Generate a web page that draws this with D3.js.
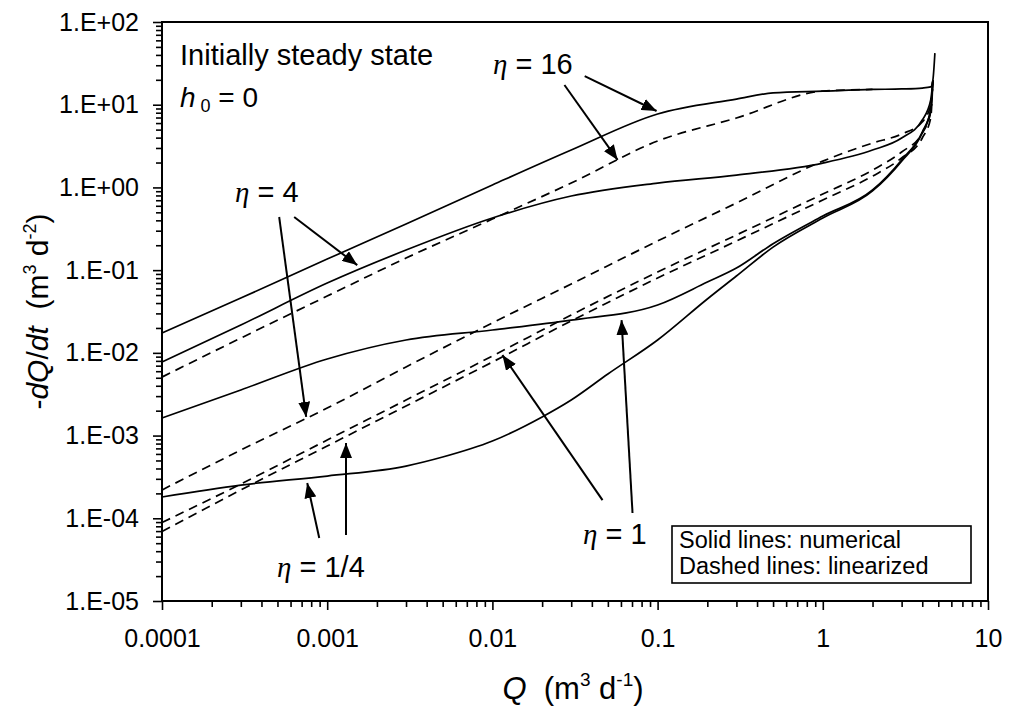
<!DOCTYPE html>
<html>
<head>
<meta charset="utf-8">
<script src="https://cdn.jsdelivr.net/npm/d3@7"></script>
<style>
  html, body { margin: 0; padding: 0; background: #fff; }
  svg { display: block; }
  text { font-family: "Liberation Sans", Arial, sans-serif; fill: #000; }
</style>
</head>
<body>
<svg id="chart" width="1009" height="708"></svg>
<script>
// ---- data: discharge Q (m3/d) and recession rate -dQ/dt (m3/d2) ----
// eta = 16
const qS16 = [1e-4, 3e-4, 1e-3, 3e-3, 1e-2, 3e-2, 0.1, 0.3, 0.5, 1, 2, 3, 4, 4.5, 4.64, 4.77];
const vS16 = [0.0174, 0.046, 0.136, 0.361, 1.07, 2.83, 7.72, 11.7, 13.9, 14.6, 15.3, 15.5, 15.9, 16.4, 20, 42];
const qD16 = [1e-4, 3e-4, 1e-3, 3e-3, 1e-2, 3e-2, 0.1, 0.3, 1, 2];
const vD16 = [0.0051, 0.0151, 0.0486, 0.140, 0.415, 1.13, 3.64, 6.91, 14.6, 15.3];
// eta = 4
const qS4 = [1e-4, 3e-4, 1e-3, 3e-3, 1e-2, 3e-2, 0.1, 0.3, 1, 2, 3, 4, 4.5, 4.64];
const vS4 = [0.00774, 0.0217, 0.0698, 0.175, 0.427, 0.787, 1.13, 1.41, 1.97, 2.83, 3.96, 6.53, 11.4, 19.9];
const qD4 = [1e-4, 3e-4, 1e-3, 3e-3, 1e-2, 3e-2, 0.1, 0.3, 1, 2, 3, 4, 4.5, 4.64];
const vD4 = [2.2e-4, 6.68e-4, 0.00215, 0.00675, 0.023, 0.068, 0.225, 0.648, 2.08, 3.44, 4.42, 6.18, 9.9, 19.9];
// eta = 1
const qS1 = [1e-4, 3e-4, 1e-3, 3e-3, 1e-2, 3e-2, 0.1, 0.2, 0.3, 0.5, 1, 2, 3, 4, 4.5, 4.64];
const vS1 = [0.00163, 0.00356, 0.00843, 0.0143, 0.0189, 0.0249, 0.0379, 0.0718, 0.106, 0.209, 0.451, 0.931, 2.15, 4.68, 8.63, 19.9];
const qD1 = [1e-4, 3e-4, 1e-3, 3e-3, 1e-2, 3e-2, 0.1, 0.3, 1, 2, 3, 4, 4.5, 4.64];
const vD1 = [8.89e-5, 2.59e-4, 8.83e-4, 0.00269, 0.00916, 0.0287, 0.0949, 0.266, 0.832, 1.62, 2.68, 4.55, 8.16, 19.9];
// eta = 1/4
const qSq = [1e-4, 3e-4, 1e-3, 3e-3, 5e-3, 1e-2, 2e-2, 3e-2, 0.05, 0.1, 0.2, 0.3, 0.5, 1, 2, 3, 4, 4.5, 4.64];
const vSq = [1.81e-4, 2.52e-4, 3.24e-4, 4.28e-4, 5.5e-4, 8.59e-4, 0.00168, 0.00269, 0.00555, 0.0143, 0.0448, 0.0849, 0.19, 0.427, 0.906, 2.08, 4.55, 8.63, 19.9];
const qDq = [1e-4, 3e-4, 1e-3, 3e-3, 1e-2, 3e-2, 0.1, 0.3, 1, 2, 3, 4, 4.5, 4.64];
const vDq = [6.92e-5, 2.2e-4, 7.48e-4, 0.00228, 0.00774, 0.0243, 0.0803, 0.225, 0.705, 1.37, 2.27, 3.96, 6.91, 19.9];

// ---- axis ticks ----
const xTickValues = [1e-4, 1e-3, 1e-2, 0.1, 1, 10];
const xTickLabels = ["0.0001", "0.001", "0.01", "0.1", "1", "10"];
const yTickValues = [1e-5, 1e-4, 1e-3, 1e-2, 1e-1, 1, 10, 100];
const yTickLabels = ["1.E-05", "1.E-04", "1.E-03", "1.E-02", "1.E-01", "1.E+00", "1.E+01", "1.E+02"];

// ---- annotation arrows: tails and tips as [Q, -dQ/dt] ----
const arrowLabels = ["16", "16", "4", "4", "1/4", "1/4", "1", "1"];
const arrowTails = [[0.0362, 22.2], [0.0273, 17.3], [6.31e-4, 0.439], [5.12e-4, 0.439], [8.95e-4, 5.77e-5], [1.30e-3, 6.28e-5], [0.0464, 1.66e-4], [0.0705, 1.16e-4]];
const arrowTips = [[0.0986, 8.39], [0.0573, 2.15], [1.52e-3, 0.115], [7.46e-4, 1.68e-3], [7.57e-4, 2.67e-4], [1.30e-3, 8.13e-4], [0.0115, 9.42e-3], [0.0605, 0.0249]];

const legendLines = ["Solid lines: numerical", "Dashed lines: linearized"];

const series = [
  { q: qS16, v: vS16, dashed: false },
  { q: qD16, v: vD16, dashed: true },
  { q: qS4, v: vS4, dashed: false },
  { q: qD4, v: vD4, dashed: true },
  { q: qS1, v: vS1, dashed: false },
  { q: qD1, v: vD1, dashed: true },
  { q: qSq, v: vSq, dashed: false },
  { q: qDq, v: vDq, dashed: true }
];

// ---- layout ----
const svg = d3.select("#chart");
const plot = { left: 162, right: 988, top: 22, bottom: 601 };

const x = d3.scaleLog().domain([1e-4, 10]).range([plot.left, plot.right]);
const y = d3.scaleLog().domain([1e-5, 100]).range([plot.bottom, plot.top]);

svg.append("defs").append("marker")
  .attr("id", "head")
  .attr("markerUnits", "userSpaceOnUse")
  .attr("markerWidth", 16).attr("markerHeight", 12)
  .attr("refX", 15).attr("refY", 6)
  .attr("orient", "auto")
  .append("path").attr("d", "M0,0 L15,6 L0,12 Z").attr("fill", "#000");

// minor ticks (2..9 of each decade)
const xMinor = x.ticks().filter(d => !xTickValues.some(t => Math.abs(t - d) / t < 1e-6));
const yMinor = y.ticks().filter(d => !yTickValues.some(t => Math.abs(t - d) / t < 1e-6));

const xAxisMinor = svg.append("g")
  .attr("transform", `translate(0,${plot.bottom})`)
  .call(d3.axisBottom(x).tickValues(xMinor).tickSize(6).tickSizeOuter(0).tickFormat(""));
const yAxisMinor = svg.append("g")
  .attr("transform", `translate(${plot.left},0)`)
  .call(d3.axisLeft(y).tickValues(yMinor).tickSize(6).tickSizeOuter(0).tickFormat(""));

const xAxis = svg.append("g")
  .attr("transform", `translate(0,${plot.bottom})`)
  .call(d3.axisBottom(x).tickValues(xTickValues).tickSize(9).tickSizeOuter(0)
    .tickPadding(19).tickFormat((d, i) => xTickLabels[i]));
const yAxis = svg.append("g")
  .attr("transform", `translate(${plot.left},0)`)
  .call(d3.axisLeft(y).tickValues(yTickValues).tickSize(9).tickSizeOuter(0)
    .tickPadding(14).tickFormat((d, i) => yTickLabels[i]));

[xAxisMinor, yAxisMinor, xAxis, yAxis].forEach(g => {
  g.select(".domain").remove();
  g.selectAll(".tick line").attr("stroke", "#000").attr("stroke-width", 1.6);
});
xAxis.selectAll(".tick text").attr("font-size", 25).attr("font-family", "Liberation Sans, Arial, sans-serif");
yAxis.selectAll(".tick text").attr("font-size", 25).attr("font-family", "Liberation Sans, Arial, sans-serif");

// plot frame
svg.append("rect")
  .attr("x", plot.left).attr("y", plot.top)
  .attr("width", plot.right - plot.left).attr("height", plot.bottom - plot.top)
  .attr("fill", "none").attr("stroke", "#000").attr("stroke-width", 2);

// curves
const line = d3.line()
  .x(d => x(d[0]))
  .y(d => y(d[1]))
  .curve(d3.curveMonotoneX);

svg.append("g").selectAll("path")
  .data(series)
  .join("path")
  .attr("d", s => line(s.q.map((q, i) => [q, s.v[i]])))
  .attr("fill", "none")
  .attr("stroke", "#000")
  .attr("stroke-width", 1.7)
  .attr("stroke-dasharray", s => s.dashed ? "9,6" : null);

// arrows
svg.append("g").selectAll("line")
  .data(arrowTails.map((t, i) => ({ t, h: arrowTips[i] })))
  .join("line")
  .attr("x1", d => x(d.t[0])).attr("y1", d => y(d.t[1]))
  .attr("x2", d => x(d.h[0])).attr("y2", d => y(d.h[1]))
  .attr("stroke", "#000").attr("stroke-width", 2)
  .attr("marker-end", "url(#head)");

// eta labels
function etaLabel(px, py, value) {
  const t = svg.append("text").attr("x", px).attr("y", py).attr("font-size", 29);
  t.append("tspan").attr("font-family", "Liberation Serif, Times New Roman, serif")
    .attr("font-style", "italic").text("η");
  t.append("tspan").text("\u00A0=\u00A0" + value);
}
etaLabel(493, 74, arrowLabels[0]);
etaLabel(235, 202, arrowLabels[2]);
etaLabel(277, 577, arrowLabels[4]);
etaLabel(583, 544, arrowLabels[6]);

// condition labels
svg.append("text").attr("x", 180).attr("y", 65).attr("font-size", 29).text("Initially steady state");
const h0 = svg.append("text").attr("x", 180).attr("y", 107).attr("font-size", 28);
h0.append("tspan").attr("font-style", "italic").text("h");
h0.append("tspan").attr("font-size", 18).attr("dy", 5).text("\u00A00");
h0.append("tspan").attr("dy", -5).text("\u00A0= 0");

// legend box
const lg = svg.append("g");
lg.append("rect").attr("x", 672).attr("y", 526).attr("width", 299).attr("height", 57)
  .attr("fill", "#fff").attr("stroke", "#000").attr("stroke-width", 1.6);
lg.selectAll("text").data(legendLines).join("text")
  .attr("x", 679).attr("y", (d, i) => 548 + i * 26)
  .attr("font-size", 23.5).text(d => d);

// axis titles
const xt = svg.append("text")
  .attr("x", (plot.left + plot.right) / 2 - 2).attr("y", 699)
  .attr("text-anchor", "middle").attr("font-size", 31);
xt.append("tspan").attr("font-style", "italic").text("Q");
xt.append("tspan").text("\u00A0\u00A0(m");
xt.append("tspan").attr("font-size", 19).attr("dy", -13).text("3");
xt.append("tspan").attr("dy", 13).text("\u00A0d");
xt.append("tspan").attr("font-size", 19).attr("dy", -13).text("-1");
xt.append("tspan").attr("dy", 13).text(")");

const yt = svg.append("text")
  .attr("transform", `translate(48,${(plot.top + plot.bottom) / 2}) rotate(-90)`)
  .attr("text-anchor", "middle").attr("font-size", 30);
yt.append("tspan").text("-");
yt.append("tspan").attr("font-style", "italic").text("dQ");
yt.append("tspan").text("/");
yt.append("tspan").attr("font-style", "italic").text("dt");
yt.append("tspan").text("\u00A0\u00A0(m");
yt.append("tspan").attr("font-size", 18).attr("dy", -12).text("3");
yt.append("tspan").attr("dy", 12).text("\u00A0d");
yt.append("tspan").attr("font-size", 18).attr("dy", -12).text("-2");
yt.append("tspan").attr("dy", 12).text(")");
</script>
</body>
</html>
